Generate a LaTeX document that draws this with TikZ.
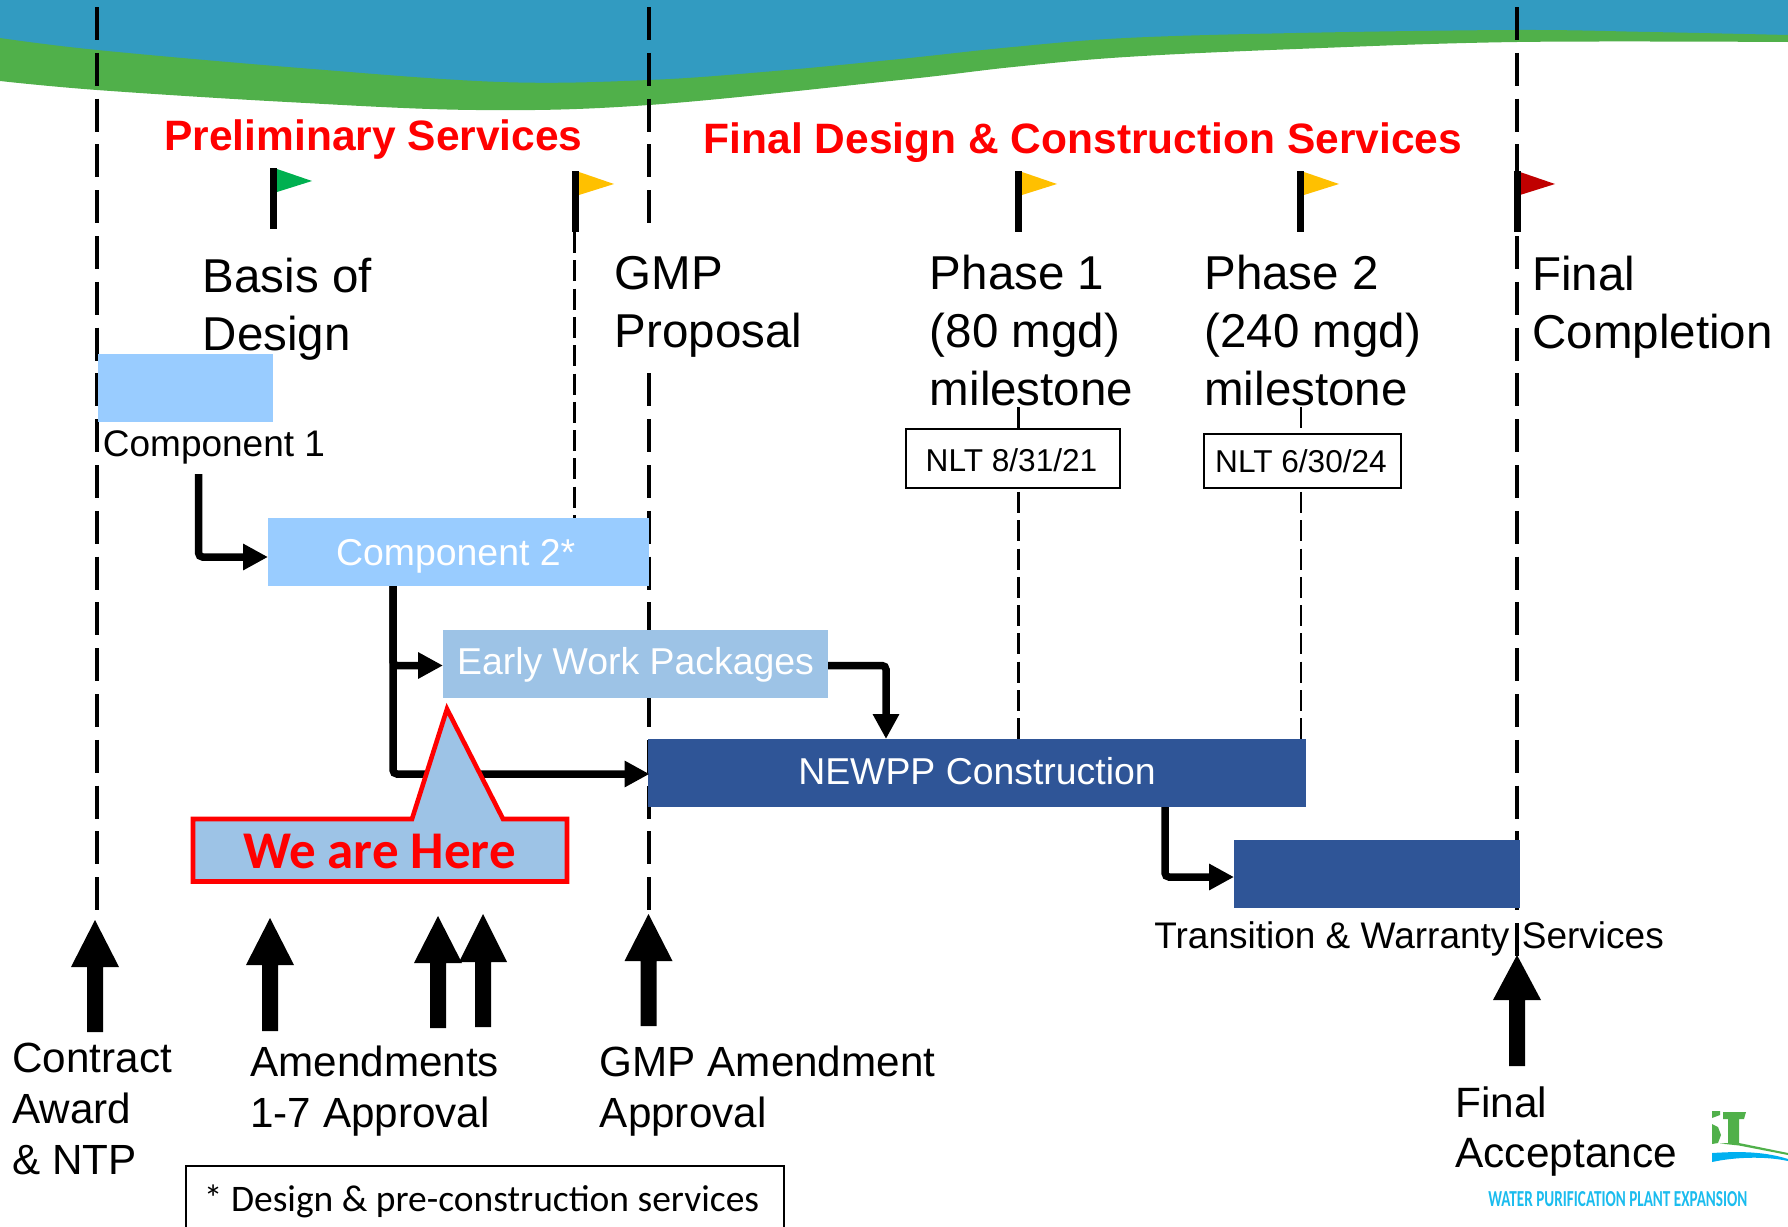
\documentclass[tikz,border=0pt]{standalone}
\usepackage{fontspec}
\setmainfont{Liberation Sans}
\newfontfamily\calfont{Carlito}
\usetikzlibrary{arrows.meta}
\definecolor{bandblue}{HTML}{329BC1}
\definecolor{bandgreen}{HTML}{50B04A}
\definecolor{lightbar}{HTML}{99CCFF}
\definecolor{midbar}{HTML}{9DC3E6}
\definecolor{darkbar}{HTML}{2F5597}
\definecolor{flaggreen}{HTML}{00B050}
\definecolor{flaggold}{HTML}{FFC000}
\definecolor{flagred}{HTML}{C00000}
\definecolor{logogreen}{HTML}{50B04A}
\definecolor{logoblue}{HTML}{00B0F0}
\definecolor{footblue}{HTML}{1BBCEE}
\newcommand\topstrut{\rule{0pt}{1em}}
\newcommand\upblock[4]{% x, tip, base, bottom
  \fill[black] (#1,#2) -- (#1+24,#3) -- (#1+8,#3) -- (#1+8,#4) -- (#1-8,#4) -- (#1-8,#3) -- (#1-24,#3) -- cycle;}
\newcommand\flagmark[6]{% pole x, pole w, top, bottom, tri left, color
  \fill[#6] (#5,#3+1) -- (#5+35,#3+13) -- (#5,#3+24) -- cycle;
  \fill[black] (#1-#2/2,#3) rectangle (#1+#2/2,#4);}
\tikzset{
  timeline/.style={line width=2pt,dash pattern=on 16.5pt off 6.4pt},
  thinline/.style={line width=1.2pt,dash pattern=on 10.5pt off 3.65pt},
  conn/.style={line width=3.75pt,rounded corners=2pt,-{Triangle[length=12.5pt,width=12.5pt]}},
  bar/.style={anchor=north west,inner sep=0pt,outer sep=0pt},
  big/.style={anchor=north west,inner sep=0pt,align=left,font=\fontsize{23.75pt}{29pt}\selectfont},
  low/.style={anchor=north west,inner sep=0pt,align=left,font=\fontsize{21.1pt}{25.5pt}\selectfont},
  head/.style={anchor=base west,inner sep=0pt,text=red,font=\fontsize{21.25pt}{25pt}\selectfont\bfseries},
  small/.style={anchor=base west,inner sep=0pt,font=\fontsize{18.5pt}{22pt}\selectfont},
  bartext/.style={text=white,font=\fontsize{18.7pt}{22pt}\selectfont},
  nlt/.style={bar,draw=black,line width=1pt,fill=white,font=\fontsize{15.8pt}{18pt}\selectfont},
}
\begin{document}
\begin{tikzpicture}[x=0.5pt,y=-0.5pt]
\useasboundingbox (0,0) rectangle (1788,1226);
\fill[white] (0,0) rectangle (1788,1226);
% wave band
\fill[bandblue] (0,0) -- plot[smooth,tension=.6] coordinates {(0,40) (97,52) (300,70) (500,84) (649,82) (775,73) (900,61) (1013,49) (1126,40) (1296,35) (1517,32) (1650,34) (1788,37)} -- (1788,0) -- cycle;
\fill[bandgreen] plot[smooth,tension=.6] coordinates {(0,38) (97,50) (300,68) (500,82) (649,80) (775,71) (900,59) (1013,47) (1126,38) (1296,33) (1517,30) (1650,32) (1788,35)}
  -- plot[smooth,tension=.6] coordinates {(1788,42) (1517,42) (1296,49) (1126,57) (1013,67) (900,80) (649,105) (476,110) (287,102) (97,90) (0,81)} -- cycle;
% timeline rules
\coordinate (t1a) at (97,7);    \coordinate (t1b) at (97,914);
\coordinate (t2a) at (649,7);   \coordinate (t2b) at (649,223);
\coordinate (t2c) at (649,373.4); \coordinate (t2d) at (649,914);
\coordinate (t3a) at (1517,7);  \coordinate (t3b) at (1517,956);
\draw[timeline] (t1a) -- (t1b);
\draw[timeline] (t2a) -- (t2b);
\draw[timeline] (t2c) -- (t2d);
\draw[timeline] (t3a) -- (t3b);
% milestone thin rules
\coordinate (m0a) at (574.5,232); \coordinate (m0b) at (574.5,518);
\coordinate (m1a) at (1018.5,407); \coordinate (m1b) at (1018.5,739);
\coordinate (m2a) at (1301,407);   \coordinate (m2b) at (1301,739);
\draw[thinline] (m0a) -- (m0b);
\draw[thinline] (m1a) -- (m1b);
\draw[thinline] (m2a) -- (m2b);
% headings
\node[head] (hprelim) at (164,150.5) {Preliminary Services};
\node[head] (hfinal) at (703.5,153) {Final Design \& Construction Services};
% flags
\flagmark{273}{7}{168}{229}{277}{flaggreen}
\flagmark{575}{7}{171}{232}{579}{flaggold}
\flagmark{1018}{7}{171}{232}{1022}{flaggold}
\flagmark{1300}{7}{171}{232}{1304}{flaggold}
\flagmark{1517}{7}{171}{232}{1520}{flagred}
% milestone labels
\node[big] (lbasis) at (202.5,244.5) {\topstrut Basis of\\Design};
\node[big,fill=white] (lgmp) at (614.5,241.5) {\topstrut GMP\\Proposal};
\node[big] (lph1) at (929.5,241.5) {\topstrut Phase 1\\(80 mgd)\\milestone};
\node[big] (lph2) at (1204,241.5) {\topstrut Phase 2\\(240 mgd)\\milestone};
\node[big] (lfinal) at (1532,242.5) {\topstrut Final\\Completion};
% bars
\node[bar,fill=lightbar,minimum width=87.5pt,minimum height=34pt] (c1) at (98,354) {};
\node[small] (c1lab) at (102.5,456.5) {Component 1};
\node[bar,bartext,fill=lightbar,minimum width=190.5pt,minimum height=34pt,text height=23.5pt,text depth=10.5pt] (c2) at (268,518) {\kern-2.8pt Component 2*};
\node[bar,bartext,fill=midbar,minimum width=192.5pt,minimum height=34pt,text height=22pt,text depth=12pt] (early) at (443,630) {Early Work Packages};
\node[bar,bartext,fill=darkbar,minimum width=329pt,minimum height=34pt,text height=22.5pt,text depth=11.5pt] (new) at (648,739) {NEWPP Construction};
\node[bar,fill=darkbar,minimum width=143pt,minimum height=34pt] (trans) at (1234,840) {};
\node[small] (translab) at (1154,948) {Transition \& Warranty};
\node[small] (translab2) at (1521.5,948) {Services};
% NLT boxes
\node[nlt,minimum width=107pt,minimum height=29.5pt,text height=21pt,text depth=8.5pt] (nlt1) at (906,429) {\kern-1.5pt NLT 8/31/21};
\node[nlt,minimum width=98.5pt,minimum height=27pt,text height=19pt,text depth=8pt] (nlt2) at (1203.5,434) {\kern-1pt NLT 6/30/24};
% connectors
\coordinate (c1s) at (198.6,474);
\draw[conn] (c1s) |- ([yshift=-2.5pt]c2.west);
\draw[conn] ([xshift=-32.75pt]c2.south) |- ([yshift=-0.75pt]early.west);
\draw[conn] ([xshift=-32.75pt]c2.south) |- ([xshift=0.75pt,yshift=-0.5pt]new.west);
\draw[conn] ([yshift=-0.75pt]early.east) -| ([xshift=-45.5pt]new.north);
\draw[conn] ([xshift=94pt]new.south) |- ([yshift=-1.5pt]trans.west);
% callout
\filldraw[fill=midbar,draw=red,line width=2.3pt,miter limit=10] (193,819) -- (412,819) -- (447,709) -- (503,819) -- (567,819) -- (567,881.5) -- (193,881.5) -- cycle;
\node[anchor=base,inner sep=0pt,text=red,font=\fontsize{26.5pt}{30pt}\selectfont\calfont\bfseries] (here) at (379.5,868) {We are Here};
% up arrows
\upblock{95}{920}{967}{1032}
\upblock{270}{918}{965}{1031}
\upblock{438}{916}{963}{1028}
\upblock{483}{914}{962}{1027}
\upblock{648.5}{914}{961}{1026}
\upblock{1517}{955}{1000}{1066}
% lower labels
\node[low] (lcontract) at (12,1029.6) {\topstrut Contract\\Award\\\&\ NTP};
\node[low] (lamend) at (250,1033.6) {\topstrut Amendments\\1-7 Approval};
\node[low] (lgmpam) at (599.5,1033.6) {\topstrut GMP Amendment\\Approval};
\node[low,font=\fontsize{21.2pt}{25pt}\selectfont] (laccept) at (1455,1074.6) {\topstrut Final\\Acceptance};
% footnote box
\coordinate (fa) at (186,1240); \coordinate (fb) at (186,1166); \coordinate (fc) at (784,1166); \coordinate (fd) at (784,1240);
\draw[black,line width=1pt] (fa) -- (fb) -- (fc) -- (fd);
\node[anchor=base west,inner sep=0pt,font=\fontsize{18.75pt}{22pt}\selectfont\calfont] (fnote) at (203.5,1211) {* Design \& pre-construction services};
% logo fragment
\fill[logogreen] (1712,1111) -- (1720,1111) -- (1720,1115) -- (1712,1118) -- cycle;
\fill[logogreen] (1712,1124) -- (1718,1127) -- (1721,1135) -- (1718,1143) -- (1712,1144) -- cycle;
\fill[logogreen] (1723,1112) -- (1746,1112) -- (1744,1119) -- (1739,1119) -- (1739,1143) -- (1788,1153) -- (1788,1155) -- (1739,1145.5) -- (1720,1143.5) -- (1728,1143) -- (1728,1119) -- (1723,1119) -- cycle;
\fill[logoblue] (1712,1153) .. controls (1730,1152) and (1760,1150) .. (1788,1159) -- (1788,1161) .. controls (1765,1156) and (1735,1157) .. (1712,1162) -- cycle;
\node[anchor=south west,inner sep=0pt,text=footblue] (lfoot) at (1488,1207) {\resizebox{129.5pt}{7.5pt}{\calfont\bfseries WATER PURIFICATION PLANT EXPANSION}};
\end{tikzpicture}
\end{document}
